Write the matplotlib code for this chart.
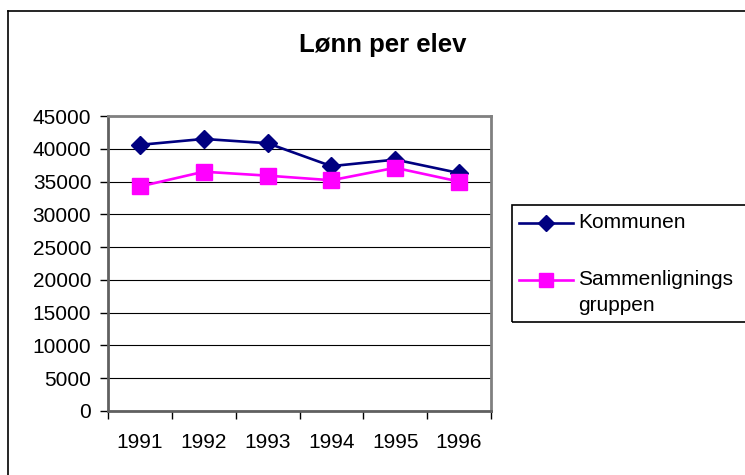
import matplotlib
matplotlib.use("Agg")
import matplotlib.pyplot as plt
from matplotlib.lines import Line2D
from matplotlib.patches import Rectangle

years = ["1991", "1992", "1993", "1994", "1995", "1996"]
kommunen = [40600, 41500, 40850, 37350, 38350, 36300]
sammenligning = [34250, 36500, 35900, 35200, 37100, 35000]
yticks = [0, 5000, 10000, 15000, 20000, 25000, 30000, 35000, 40000, 45000]
series_labels = ["Kommunen", "Sammenlignings\ngruppen"]
series_colors = ["#000080", "#FF00FF"]
series_markers = ["D", "s"]

plt.rcParams['font.family'] = ['Liberation Sans', 'DejaVu Sans']

W, H = 745, 475
fig = plt.figure(figsize=(W / 100, H / 100), dpi=100)


def fx(px):
    return px / W


def fy(py):
    return 1 - py / H


# figure border (left and top visible)
fig.add_artist(Line2D([fx(8), fx(8)], [0, fy(11)], transform=fig.transFigure, color='black', lw=1.2))
fig.add_artist(Line2D([fx(8), 1], [fy(11), fy(11)], transform=fig.transFigure, color='black', lw=1.2))

ax = fig.add_axes([fx(108), fy(411), (491 - 108) / W, (411 - 116) / H])
x = list(range(len(years)))

ax.plot(x, kommunen, color=series_colors[0], lw=1.9, marker=series_markers[0], ms=9.5, zorder=3)
ax.plot(x, sammenligning, color=series_colors[1], lw=1.9, marker=series_markers[1], ms=11, zorder=3)

ax.set_xlim(-0.5, len(years) - 0.5)
ax.set_ylim(0, 45000)
ax.set_yticks(yticks)
ax.set_yticklabels([str(v) for v in yticks], fontsize=15)
ax.yaxis.grid(True, color='black', lw=0.8)
ax.set_axisbelow(True)

ax.set_xticks(x)
ax.set_xticklabels(years, fontsize=15)
ax.tick_params(axis='x', which='major', length=0, pad=16)
ax.set_xticks([i - 0.5 for i in range(len(years) + 1)], minor=True)
ax.tick_params(axis='x', which='minor', length=6, width=1, color='black', direction='out')
ax.tick_params(axis='y', length=6, width=1, color='black', pad=6)

for s in ['top', 'right']:
    ax.spines[s].set_color('#808080')
    ax.spines[s].set_linewidth(2)
for s in ['left', 'bottom']:
    ax.spines[s].set_color('#606060')
    ax.spines[s].set_linewidth(2)

fig.text(fx(383), fy(45), 'Lønn per elev', fontsize=18.5, fontweight='bold', ha='center', va='center')

# legend (manual, first text line aligned with handle)
fig.add_artist(Rectangle((fx(512), fy(322)), (770 - 512) / W, (322 - 205) / H,
                         transform=fig.transFigure, fill=False, edgecolor='black', lw=1.2))
legend_y = [223, 280]
for lab, col, mk, ly, ms in zip(series_labels, series_colors, series_markers, legend_y, [8, 10]):
    fig.add_artist(Line2D([fx(519), fx(573)], [fy(ly), fy(ly)], transform=fig.transFigure,
                          color=col, lw=1.9))
    fig.add_artist(Line2D([fx(546)], [fy(ly)], transform=fig.transFigure, color=col,
                          marker=mk, ms=ms, lw=0))
    fig.text(fx(578), fy(ly - 10), lab, fontsize=15, ha='left', va='top', linespacing=1.45)

fig.savefig('out.png', dpi=100)
